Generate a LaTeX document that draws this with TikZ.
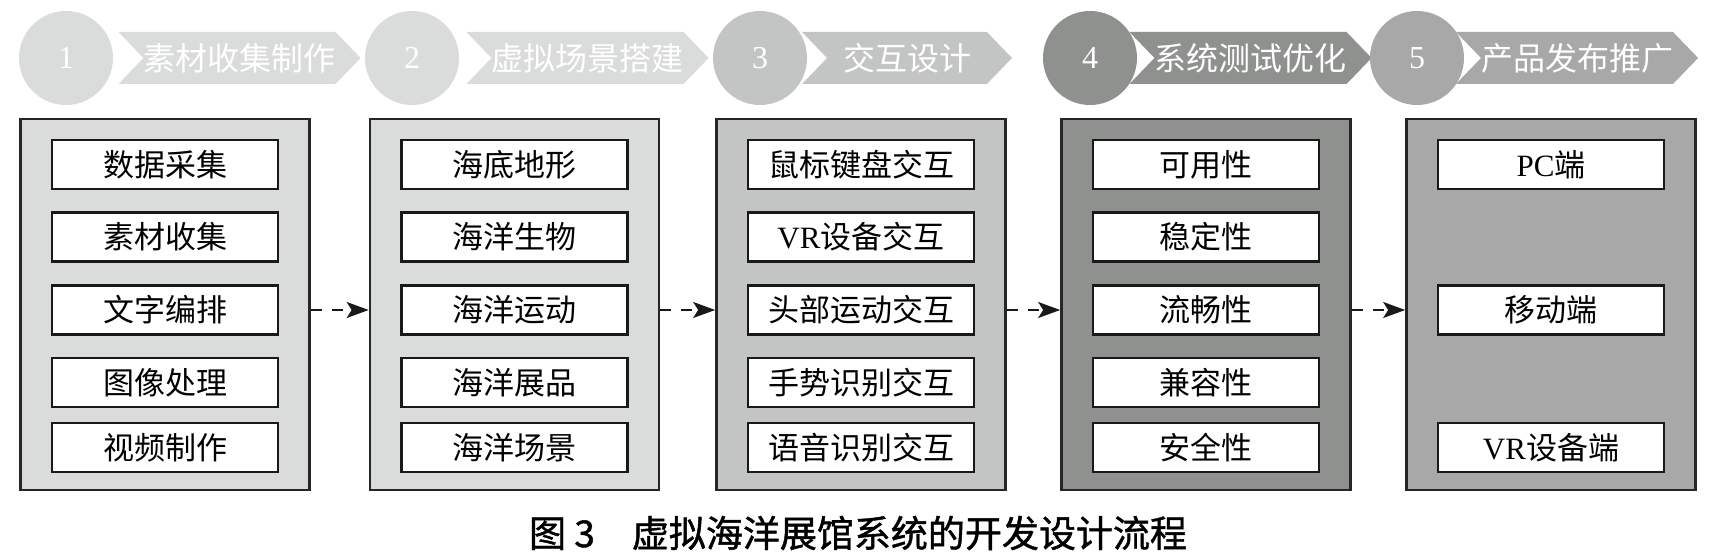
\documentclass[tikz,border=0pt]{standalone}
\usepackage{fontspec}
\setmainfont{Liberation Serif}
\newfontfamily\cjk{Noto Sans CJK SC}
\newfontfamily\capcjk[FakeBold=1.2]{Noto Sans CJK SC}
\usetikzlibrary{shapes.symbols,arrows.meta}

\definecolor{tonea}{HTML}{DADCDB}
\definecolor{toneb}{HTML}{C3C5C4}
\definecolor{tonec}{HTML}{8F918F}
\definecolor{toned}{HTML}{A8A8A8}

\begin{document}
\begin{tikzpicture}[x=0.5pt, y=-0.5pt,
  panel/.style={draw=black!85, line width=1.35pt, minimum width=144.5pt,
    minimum height=185.5pt, inner sep=0pt},
  item/.style={draw=black!90, fill=white, line width=1.15pt, minimum width=113pt,
    minimum height=24.5pt, inner sep=0pt, font=\cjk\fontsize{15.5pt}{17pt}\selectfont},
  badge/.style={circle, minimum size=47pt, inner sep=0pt, text=white,
    font=\fontsize{16pt}{18pt}\selectfont},
  banner/.style={signal, signal from=west, signal to=east, signal pointer angle=92,
    minimum height=26pt, inner sep=0pt, text=white,
    font=\cjk\fontsize{16pt}{18pt}\selectfont},
  flow/.style={dash pattern=on 5.5pt off 5pt, line width=1pt, black!90,
    -{Stealth[length=11pt,width=8pt,inset=2.5pt]}}]
\useasboundingbox (0,0) rectangle (1722,560);

\node[banner, fill=tonea, minimum width=120.5pt] (h1) at (239.5,58) {素材收集制作};
\node[banner, fill=tonea, minimum width=120.5pt] (h2) at (587.5,58) {虚拟场景搭建};
\node[banner, fill=toneb, minimum width=105pt] (h3) at (907,58) {交互设计};
\node[banner, fill=tonec, minimum width=119.5pt] (h4) at (1250.5,58) {系统测试优化};
\node[banner, fill=toned, minimum width=117pt] (h5) at (1577,58) {产品发布推广};

\node[badge, fill=tonea] (n1) at (66,58) {1};
\node[badge, fill=tonea] (n2) at (412,58) {2};
\node[badge, fill=toneb] (n3) at (760,58) {3};
\node[badge, fill=tonec] (n4) at (1090,58) {4};
\node[badge, fill=toned] (n5) at (1417,58) {5};

\node[panel, fill=tonea] (p1) at (165,304.5) {};
\node[panel, fill=tonea] (p2) at (514.5,304.5) {};
\node[panel, fill=toneb] (p3) at (861,304.5) {};
\node[panel, fill=tonec] (p4) at (1206,304.5) {};
\node[panel, fill=toned] (p5) at (1551,304.5) {};

\node[item] (a1) at (165,164.5) {数据采集};
\node[item] (a2) at (165,237) {素材收集};
\node[item] (a3) at (165,310) {文字编排};
\node[item] (a4) at (165,382.5) {图像处理};
\node[item] (a5) at (165,447.5) {视频制作};

\node[item] (b1) at (514.5,164.5) {海底地形};
\node[item] (b2) at (514.5,237) {海洋生物};
\node[item] (b3) at (514.5,310) {海洋运动};
\node[item] (b4) at (514.5,382.5) {海洋展品};
\node[item] (b5) at (514.5,447.5) {海洋场景};

\node[item] (c1) at (861,164.5) {鼠标键盘交互};
\node[item] (c2) at (861,237) {{\rmfamily VR}设备交互};
\node[item] (c3) at (861,310) {头部运动交互};
\node[item] (c4) at (861,382.5) {手势识别交互};
\node[item] (c5) at (861,447.5) {语音识别交互};

\node[item] (d1) at (1206,164.5) {可用性};
\node[item] (d2) at (1206,237) {稳定性};
\node[item] (d3) at (1206,310) {流畅性};
\node[item] (d4) at (1206,382.5) {兼容性};
\node[item] (d5) at (1206,447.5) {安全性};

\node[item] (e1) at (1551,164.5) {{\rmfamily PC}端};
\node[item] (e2) at (1551,310) {移动端};
\node[item] (e3) at (1551,447.5) {{\rmfamily VR}设备端};

\path[flow] (p1.east |- a3) edge (p2.west |- a3);
\path[flow] (p2.east |- b3) edge (p3.west |- b3);
\path[flow] (p3.east |- c3) edge (p4.west |- c3);
\path[flow] (p4.east |- d3) edge (p5.west |- d3);

\node[font=\capcjk\fontsize{18.5pt}{20pt}\selectfont] (cap) at (858,533)
  {图 3\quad 虚拟海洋展馆系统的开发设计流程};
\end{tikzpicture}
\end{document}
